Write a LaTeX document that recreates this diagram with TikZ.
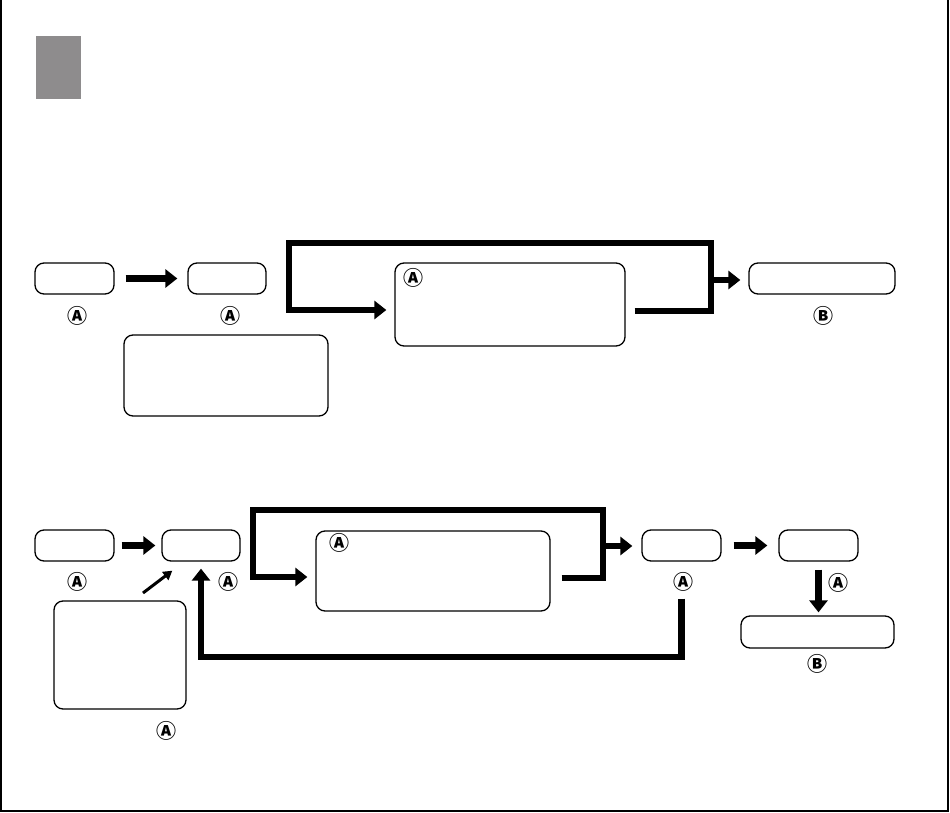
\documentclass[tikz,border=0pt]{standalone}
\usepackage{fontspec}
\newfontfamily\circfont{Noto Sans CJK JP}
\usetikzlibrary{arrows.meta}
\definecolor{tabgray}{RGB}{142,140,141}

\begin{document}
\begin{tikzpicture}[x=1pt, y=-1pt,
    box/.style={draw, rounded corners=9pt, line width=1.3pt, inner sep=0pt},
    flow/.style={line width=6.5pt, -{Triangle[length=12pt,width=18pt]}},
    slim/.style={line width=3pt, -{Triangle[length=9pt,width=10pt]}},
    lbl/.style={font=\circfont\bfseries\fontsize{20}{20}\selectfont, inner sep=0pt}]
    \useasboundingbox (0,0) rectangle (950,813);
    \draw[line width=2pt] (1,0) -- (1,811) -- (948,811) -- (948,0);
    \fill[tabgray] (36,36) rectangle (81,99);

    \node[box, minimum width=79pt, minimum height=31pt] (a1) at (74.5,278.5) {};
    \node[box, minimum width=78pt, minimum height=31pt] (a2) at (227,278.5) {};
    \node[box, minimum width=204pt, minimum height=81pt] (n1) at (226,375.5) {};
    \node[box, minimum width=230pt, minimum height=83pt] (c) at (510,304.5) {};
    \node[box, minimum width=146pt, minimum height=31pt] (b) at (822,278.5) {};
    \node[lbl] (la1) at (77,316) {Ⓐ};
    \node[lbl] (la2) at (230,316) {Ⓐ};
    \node[lbl] (lc) at (413,278) {Ⓐ};
    \node[lbl] (lb) at (823,316) {Ⓑ};

    \draw[flow, shorten <=11pt, shorten >=10pt] (a1) -- (a2);
    \draw[flow, shorten <=9pt, shorten >=8pt] (c.east |- 0,311) -| (711,243) -| (289,310) -- (c.west |- 0,310);
    \draw[flow, shorten >=8pt] (711,280) -- (b.west |- 0,280);

    \node[box, minimum width=79pt, minimum height=31pt] (d1) at (74.5,545.5) {};
    \node[box, minimum width=78pt, minimum height=31pt] (d2) at (201,545.5) {};
    \node[box, minimum width=132pt, minimum height=108pt] (n2) at (120,655) {};
    \node[box, minimum width=234pt, minimum height=80pt] (e) at (433,571) {};
    \node[box, minimum width=79pt, minimum height=31pt] (f) at (681.5,545.5) {};
    \node[box, minimum width=79pt, minimum height=31pt] (g) at (818.5,545.5) {};
    \node[box, minimum width=153pt, minimum height=32pt] (h) at (817.5,632) {};
    \node[lbl] (ld1) at (77,582) {Ⓐ};
    \node[lbl] (ld2) at (228,582) {Ⓐ};
    \node[lbl] (ln2) at (166,731) {Ⓐ};
    \node[lbl] (le) at (339,543) {Ⓐ};
    \node[lbl] (lf) at (683,582) {Ⓐ};
    \node[lbl] (lg) at (838,583) {Ⓐ};
    \node[lbl] (lh) at (817,664) {Ⓑ};

    \coordinate (hint) at (143,593);
    \draw[flow, shorten <=7pt, shorten >=6pt] (d1) -- (d2);
    \draw[slim] (hint) -- ([xshift=11pt, yshift=-9pt]d2.south west);
    \draw[flow, shorten <=11pt, shorten >=8pt] (e.east |- 0,578) -| (603,510) -| (253,577) -- (e.west |- 0,577);
    \draw[flow, shorten >=9pt] (603,546) -- (f.west |- 0,546);
    \draw[flow, shorten <=12pt, shorten >=11pt] (f) -- (g);
    \draw[flow, shorten <=8pt, shorten >=3pt] (g) -- (g |- h.north);
    \draw[flow, shorten <=37pt, shorten >=7pt] (f.south) |- (d2.south |- 0,657) -- (d2.south);
\end{tikzpicture}
\end{document}
